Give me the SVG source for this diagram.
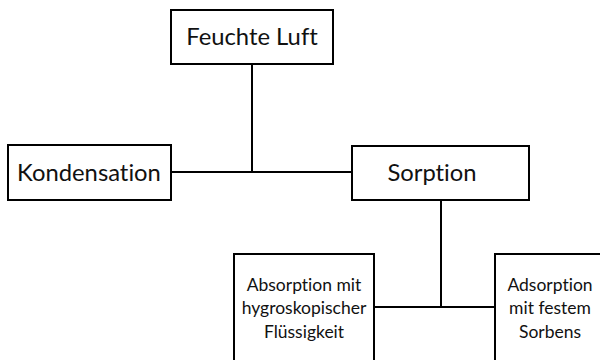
<svg xmlns="http://www.w3.org/2000/svg" width="600" height="360" viewBox="0 0 600 360">
<style>
.box{fill:#fff;stroke:#000;stroke-width:2}
.ln{stroke:#000;stroke-width:2;fill:none}
text{font-variant-ligatures:none;font-feature-settings:"liga" 0,"dlig" 0}
.big{font-family:Lato,"Open Sans",sans-serif;font-size:23.8px;fill:#111;text-anchor:middle}
.sm{font-family:Lato,"Open Sans",sans-serif;font-size:17.5px;fill:#111;text-anchor:middle}
</style>
<rect width="600" height="360" fill="#fff"/>
<g id="connectors">
<path class="ln" d="M252,64 V172 M171,172 H352 M441,200 V307 M374,307 H495"/>
</g>
<g id="feuchte"><rect class="box" x="171" y="10" width="162" height="54"/><text class="big" x="252" y="45">Feuchte Luft</text></g>
<g id="kondensation"><rect class="box" x="8" y="145" width="163" height="55"/><text class="big" x="89" y="181">Kondensation</text></g>
<g id="sorption"><rect class="box" x="352" y="146" width="177" height="54"/><text class="big" x="432" y="181">Sorption</text></g>
<g id="absorption"><rect class="box" x="234" y="254" width="140" height="120"/><text class="sm" x="304" y="291">Absorption mit</text><text class="sm" x="304" y="314">hygroskopischer</text><text class="sm" x="304" y="338">Flüssigkeit</text></g>
<g id="adsorption"><rect class="box" x="495" y="254" width="120" height="120"/><text class="sm" x="550" y="291">Adsorption</text><text class="sm" x="550" y="314">mit festem</text><text class="sm" x="550" y="338">Sorbens</text></g>
</svg>
